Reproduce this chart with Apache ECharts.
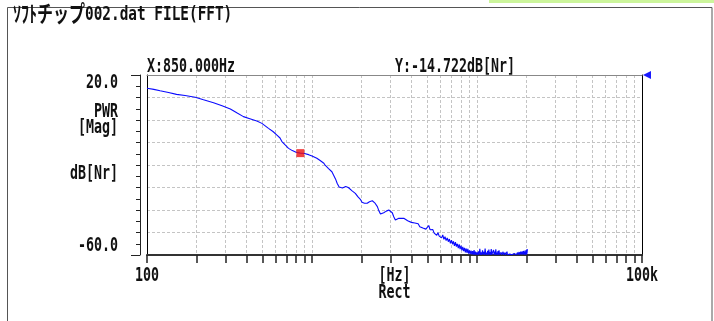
<!DOCTYPE html>
<html><head><meta charset="utf-8">
<script src="https://cdn.jsdelivr.net/npm/echarts@6/dist/echarts.min.js"></script>
<style>html,body{margin:0;padding:0;background:#fff}#c{width:714px;height:321px}</style>
</head><body><div id="c"></div>
<script>
// ---- data ----
const titleKana = 'ｿﾌﾄチップ';
const titleRest = '002.dat FILE(FFT)';
const freqHz = [
  100,110,120,135,151,170,196,220,253,285,320,350,384,420,463,497,545,580,613,640,
  657,690,721,760,800,850,900,954,1000,1024,1070,1120,1180,1205,1260,1320,1350,1390,1420,1460,
  1490,1530,1560,1600,1630,1660,1700,1750,1790,1830,1900,1970,2010,2080,2160,2230,2320,2400,2490,2550,
  2600,2660,2720,2820,2920,3000,3065,3130,3200,3280,3360,3450,3600,3700,3800,3900,
  4000,4100,4200,4300,4400,4500,4600,4700,4800,4900,5000,5100,5200,5300,5400,5500,5600,5700,5800,5900,
  6000,6100,6200,6300,6400,6500,6600,6700,6800,6900,7000,7100,7200,7300,7400,7500,7600,7700,7800,7900,
  8000,8100,8200,8300,8400,8500,8600,8700,8800,8900,9000,9100,9200,9300,9400,9500,9600,9700,9800,9900,
  10000,10100,10200,10300,10400,10500,10600,10700,10800,10900,11000,11100,11200,11300,11400,11500,11600,11700,11800,11900,
  12000,12100,12200,12300,12400,12500,12600,12700,12800,12900,13000,13100,13200,13300,13400,13500,13600,13700,13800,13900,
  14000,14100,14200,14300,14400,14500,14600,14700,14800,14900,15000,15100,15200,15300,15400,15500,15600,15700,15800,15900,
  16000,16100,16200,16300,16400,16500,16600,16700,16800,16900,17000,17100,17200,17300,17400,17500,17600,17700,17800,17900,
  18000,18100,18200,18300,18400,18500,18600,18700,18800,18900,19000,19100,19200,19300,19400,19500,19600,19700,19800,19900,
  20000,20100,20200
];
const powerDb = [
  14.1,13.6,13.0,12.2,11.4,10.9,10.1,9.0,7.7,6.3,4.9,3.2,1.5,0.6,-0.4,-1.5,-3.7,-5.1,-6.7,-8.0,
  -9.6,-11.2,-12.6,-13.6,-14.3,-14.72,-14.9,-15.4,-16.0,-16.4,-17.0,-18.0,-19.2,-20.2,-21.6,-23.0,-24.4,-26.3,-28.1,-29.8,
  -30.5,-30.2,-29.9,-29.6,-29.7,-30.0,-30.8,-31.5,-31.9,-32.6,-34.2,-35.4,-36.6,-37.0,-37.0,-36.3,-35.9,-36.8,-38.5,-40.6,
  -41.8,-41.6,-41.2,-40.5,-40.0,-40.4,-41.2,-43.0,-44.4,-44.0,-43.7,-43.9,-43.7,-44.2,-44.8,-45.0,
  -45.5,-46.3,-45.8,-46.6,-46.1,-47.4,-46.8,-48.0,-47.2,-48.5,-47.9,-46.9,-48.8,-49.6,-48.7,-50.3,-49.5,-51.2,-50.1,-51.6,
  -50.8,-52.4,-51.1,-53.0,-51.9,-53.6,-52.4,-54.1,-52.9,-54.8,-53.4,-55.2,-53.9,-55.9,-54.3,-56.3,-55.0,-56.9,-55.3,-57.4,
  -55.8,-57.9,-56.4,-58.3,-56.8,-58.8,-57.1,-59.1,-57.3,-59.4,-57.9,-59.6,-58.0,-59.7,-58.3,-59.8,-57.8,-59.9,-58.5,-59.8,
  -58.9,-59.9,-58.4,-59.8,-57.3,-59.9,-58.8,-59.9,-57.9,-59.7,-58.6,-59.9,-57.1,-59.8,-58.9,-59.9,-58.2,-59.9,-57.6,-59.8,
  -58.7,-59.9,-57.4,-59.9,-59.0,-59.8,-57.8,-59.9,-58.5,-59.9,-57.5,-59.8,-58.9,-59.9,-58.3,-59.9,-57.9,-59.8,-59.1,-59.9,
  -58.8,-59.9,-59.3,-59.9,-58.6,-59.9,-59.4,-59.8,-58.9,-59.9,-59.2,-59.9,-58.5,-59.9,-59.5,-59.9,-59.2,-59.9,-59.6,-59.9,
  -59.3,-59.9,-59.6,-59.9,-59.4,-59.9,-59.7,-59.9,-59.3,-59.9,-59.6,-59.9,-59.2,-59.9,-59.5,-59.9,-58.9,-59.9,-59.3,-59.9,
  -58.7,-59.9,-59.2,-59.9,-58.5,-59.8,-59.1,-59.9,-58.4,-59.8,-59.0,-59.9,-58.2,-59.8,-58.8,-59.9,-57.9,-59.8,-58.6,-59.9,
  -57.6,-59.4,-57.4
];
const cursorFreq = 850;
const cursorPower = -14.722;
const xTickValues = [100,200,300,400,500,600,700,800,900,
  1000,2000,3000,4000,5000,6000,7000,8000,9000,
  10000,20000,30000,40000,50000,60000,70000,80000,90000,100000];
const xLabelValues = [100, 100000];
const xLabelTexts = ['100', '100k'];
const yLabelValues = [20, -60];
const yLabelTexts = ['20.0', '-60.0'];
const yMin = -60, yMax = 20, yStep = 10;
const xMin = 100, xMax = 100000;
const yNameLines = ['PWR', '[Mag]'];
const yNameUnit = 'dB[Nr]';
const xNameLines = ['[Hz]', 'Rect'];

// ---- chart ----
const FONT = "'DejaVu Sans Mono','Noto Sans CJK JP',monospace";
const TXT = '#111';
const SY = 1.4;
const lineData = freqHz.map((f, i) => [f, powerDb[i]]);
const chart = echarts.init(document.getElementById('c'), null, {renderer: 'canvas'});
const split = {show: true, lineStyle: {color: '#c4c4c4', type: [3, 2], width: 1}};

chart.setOption({
  animation: false,
  backgroundColor: '#fff',
  grid: {left: 147, top: 75, right: 72, bottom: 66, containLabel: false, outerBoundsMode: 'none'},
  xAxis: [{
    type: 'log', min: xMin, max: xMax, logBase: 10,
    axisLine: {show: true, onZero: false, lineStyle: {color: '#333', width: 2}},
    axisTick: {show: true, customValues: xTickValues, length: 8, lineStyle: {color: '#222', width: 1.5}},
    minorTick: {show: false},
    splitLine: split,
    axisLabel: {show: false}
  }, {
    type: 'log', position: 'top', min: xMin, max: xMax, logBase: 10,
    axisLine: {show: true, onZero: false, lineStyle: {color: '#888', width: 1}},
    axisTick: {show: false}, axisLabel: {show: false}, splitLine: {show: false}
  }],
  yAxis: [{
    type: 'value', position: 'left', min: yMin, max: yMax, interval: yStep,
    axisLine: {show: true, onZero: false, lineStyle: {color: '#000', width: 1}},
    axisTick: {show: false}, axisLabel: {show: false}, splitLine: split
  }, {
    type: 'value', position: 'left', min: yMin, max: yMax, interval: yStep, offset: 7,
    axisLine: {show: true, onZero: false, lineStyle: {color: '#222', width: 1}},
    axisTick: {show: true, length: 4, lineStyle: {color: '#222'}},
    minorTick: {show: true, splitNumber: 2, length: 4, lineStyle: {color: '#222'}},
    splitLine: {show: false}, axisLabel: {show: false}
  }, {
    type: 'value', position: 'left', min: yMin, max: yMax, interval: yMax - yMin, offset: 7,
    axisLine: {show: false}, axisLabel: {show: false}, splitLine: {show: false},
    axisTick: {show: true, length: 9, lineStyle: {color: '#222'}}
  }, {
    type: 'value', position: 'right', min: yMin, max: yMax, interval: yStep,
    axisLine: {show: true, onZero: false, lineStyle: {color: '#000', width: 1}},
    axisTick: {show: false}, axisLabel: {show: false}, splitLine: {show: false}
  }],
  series: [{
    type: 'line', xAxisIndex: 0, yAxisIndex: 0, data: lineData,
    showSymbol: false, symbol: 'none', smooth: false, clip: true,
    lineStyle: {color: '#0a0aff', width: 1.1}, z: 3
  }, {
    type: 'scatter', xAxisIndex: 0, yAxisIndex: 0, data: [[cursorFreq, cursorPower]],
    symbol: 'rect', symbolSize: 8, itemStyle: {color: '#ee1111'}, z: 4
  }]
});

function label(text, x, y, align, size) {
  return {type: 'text', x: x, y: y, scaleY: SY, silent: true, z: 10,
    style: {text: text, x: 0, y: 0, align: align, verticalAlign: 'middle',
      font: 'bold ' + (size || 13.3) + 'px ' + FONT, fill: TXT}};
}
const px = (xv, yv) => chart.convertToPixel({xAxisIndex: 0, yAxisIndex: 0}, [xv, yv]);
const tip = px(xMax, yMax);
const lb = px(xMin, yMin);
const xCenter = (lb[0] + tip[0]) / 2;
const labelRight = lb[0] - 29;
const gfx = [
  {type: 'rect', shape: {x: 489, y: 0, width: 225, height: 3}, style: {fill: '#ccf59c'}, silent: true},
  {type: 'rect', shape: {x: 7.5, y: 7.5, width: 704.5, height: 330}, style: {fill: null, stroke: '#555', lineWidth: 1}, silent: true},
  {type: 'text', x: 13, y: 15, scaleY: SY, silent: true,
    style: {text: '{k|' + titleKana + '}{r|' + titleRest + '}', x: 0, y: 0, align: 'left', verticalAlign: 'middle',
      rich: {k: {fontFamily: 'Noto Sans CJK JP', fontSize: 16, fontWeight: 'bold', fill: TXT, padding: [0, 0, 2, 0]},
             r: {fontFamily: FONT, fontSize: 14.4, fontWeight: 'bold', fill: TXT}}}},
  label('X:' + cursorFreq.toFixed(3) + 'Hz', lb[0], 67, 'left'),
  label('Y:' + cursorPower.toFixed(3) + 'dB[Nr]', 395, 67, 'left'),
  label(yNameLines[0], labelRight, 112, 'right'),
  label(yNameLines[1], labelRight, 128, 'right'),
  label(yNameUnit, labelRight, 174, 'right'),
  label(xNameLines[0], xCenter, lb[1] + 21.5, 'center'),
  label(xNameLines[1], xCenter, lb[1] + 38.5, 'center'),
  {type: 'polygon', shape: {points: [[tip[0] + 1, tip[1]], [tip[0] + 9, tip[1] - 4], [tip[0] + 9, tip[1] + 4]]}, style: {fill: '#1a1aff'}}
];
yLabelValues.forEach((v, i) => {
  const p = px(xMin, v);
  const inset = v === yMax ? 8.5 : -9;
  gfx.push(label(yLabelTexts[i], labelRight, p[1] + inset, 'right'));
});
xLabelValues.forEach((v, i) => {
  const p = px(v, yMin);
  gfx.push(label(xLabelTexts[i], p[0], p[1] + 21.5, 'center'));
});
chart.setOption({graphic: gfx});
</script></body></html>
